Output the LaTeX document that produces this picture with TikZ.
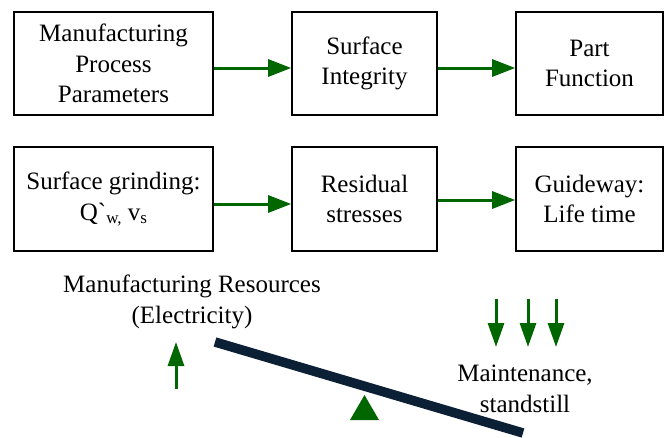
\documentclass[tikz,border=0pt]{standalone}
\usepackage{fontspec}
\setmainfont{Liberation Serif}
\newfontfamily\rawserif{Liberation Serif}
\usetikzlibrary{arrows.meta}
\definecolor{flowgreen}{RGB}{0,102,0}
\definecolor{beamnavy}{HTML}{0B1F35}
\begin{document}
\begin{tikzpicture}[x=1pt,y=-1pt,
  every node/.style={font=\fontsize{25}{30.5}\selectfont, align=center, inner sep=0pt},
  box/.style={draw=black, line width=1.6pt, minimum height=103pt},
  flow/.style={draw=flowgreen, line width=3pt, -{Triangle[length=23pt,width=17pt]}},
  vflow/.style={draw=flowgreen, line width=3pt, -{Triangle[length=24pt,width=16pt]}}]
\useasboundingbox (0,0) rectangle (667,437);
% top row
\node[box, minimum width=199pt] (mpp) at (113.5,63.5) {Manufacturing\\Process\\Parameters};
\node[box, minimum width=145pt] (si) at (364.5,63.5) {Surface\\Integrity};
\node[box, minimum width=147pt] (pf) at (589.5,63.5) {Part\\Function};
% bottom row
\node[box, minimum width=199pt, minimum height=104pt] (sg) at (113.5,199) {Surface grinding:\\Q{\rawserif`}\raisebox{-0.3ex}{\fontsize{17}{17}\selectfont w,} v\raisebox{-0.3ex}{\fontsize{17}{17}\selectfont s}};
\node[box, minimum width=145pt, minimum height=104pt] (rs) at (364.5,199) {Residual\\stresses};
\node[box, minimum width=147pt, minimum height=104pt] (gl) at (589.5,199) {Guideway:\\Life time};
% arrows
\draw[flow] ([yshift=-4.5pt]mpp.east) -- ([yshift=-4.5pt]si.west);
\draw[flow] ([yshift=-4.5pt]si.east) -- ([yshift=-4.5pt]pf.west);
\draw[flow] ([yshift=-5pt]sg.east) -- ([yshift=-5pt]rs.west);
\draw[flow] ([yshift=-1pt]rs.east) -- ([yshift=-1pt]gl.west);
% labels
\node (res) at (192,302) {Manufacturing Resources\\(Electricity)};
\node (mnt) at (525,389) {Maintenance,\\standstill};
% up arrow
\coordinate (ua) at (176,389);
\coordinate (ub) at (176,342);
\draw[vflow] (ua) -- (ub);
% down arrows
\foreach \i/\x in {1/496,2/528,3/556}{
  \coordinate (da\i) at (\x,299);
  \coordinate (db\i) at (\x,347);
  \draw[vflow] (da\i) -- (db\i);
}
% beam
\coordinate (bl) at (215,342);
\coordinate (br) at (523,433);
\draw[beamnavy, line width=9.5pt] (bl) -- (br);
% fulcrum
\fill[flowgreen] (350,420) -- (364.5,395) -- (379,420) -- cycle;
\end{tikzpicture}
\end{document}
